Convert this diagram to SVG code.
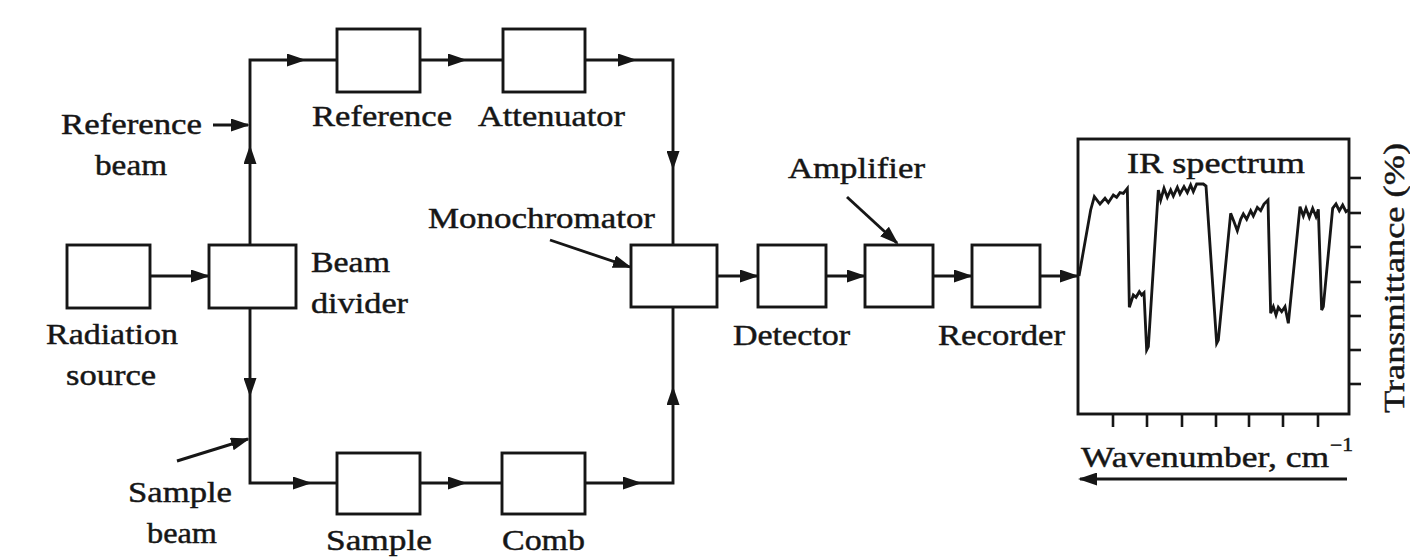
<svg xmlns="http://www.w3.org/2000/svg" width="1410" height="559" viewBox="0 0 1410 559">
<style>
  .box{fill:#fff;stroke:#161616;stroke-width:2.9}
  .ln{fill:none;stroke:#161616;stroke-width:2.9}
  .t{font-family:"Liberation Serif","Times New Roman",serif;font-size:29px;fill:#161616;stroke:#161616;stroke-width:0.45}
  .tick{stroke:#161616;stroke-width:2.6}
</style>
<defs>
  <marker id="ah" viewBox="0 0 19 13" refX="17" refY="6.5" markerWidth="19" markerHeight="13" markerUnits="userSpaceOnUse" orient="auto">
    <path d="M0,0 L19,6.5 L0,13 Z" fill="#161616"/>
  </marker>
</defs>
<rect width="1410" height="559" fill="#fff"/>

<g id="connectors">
  <path class="ln" d="M250,245 L250,147" marker-end="url(#ah)"/>
  <path class="ln" d="M250,147 L250,60 L304,60" marker-end="url(#ah)"/>
  <path class="ln" d="M304,60 L337,60"/>
  <path class="ln" d="M420,60 L465,60" marker-end="url(#ah)"/>
  <path class="ln" d="M465,60 L503,60"/>
  <path class="ln" d="M585,60 L635,60" marker-end="url(#ah)"/>
  <path class="ln" d="M635,60 L673,60 L673,168" marker-end="url(#ah)"/>
  <path class="ln" d="M673,168 L673,245"/>
  <path class="ln" d="M250,308 L250,395" marker-end="url(#ah)"/>
  <path class="ln" d="M250,395 L250,483 L310,483" marker-end="url(#ah)"/>
  <path class="ln" d="M310,483 L337,483"/>
  <path class="ln" d="M420,483 L465,483" marker-end="url(#ah)"/>
  <path class="ln" d="M465,483 L502,483"/>
  <path class="ln" d="M585,483 L640,483" marker-end="url(#ah)"/>
  <path class="ln" d="M640,483 L673,483 L673,388" marker-end="url(#ah)"/>
  <path class="ln" d="M673,388 L673,307"/>
  <path class="ln" d="M150,276 L208,276" marker-end="url(#ah)"/>
  <path class="ln" d="M717,276 L757,276" marker-end="url(#ah)"/>
  <path class="ln" d="M826,276 L864,276" marker-end="url(#ah)"/>
  <path class="ln" d="M933,276 L971,276" marker-end="url(#ah)"/>
  <path class="ln" d="M1040,276 L1077,276" marker-end="url(#ah)"/>
  <path class="ln" d="M213,125 L248,125" marker-end="url(#ah)"/>
  <path class="ln" d="M177,461 L248,439" marker-end="url(#ah)"/>
  <path class="ln" d="M550,240 L630,267" marker-end="url(#ah)"/>
  <path class="ln" d="M847,197 L897,243" marker-end="url(#ah)"/>
</g>

<g id="radiation-source">
  <rect class="box" x="67" y="245" width="83" height="63"/>
  <text class="t" x="46" y="344" textLength="132" lengthAdjust="spacingAndGlyphs">Radiation</text>
  <text class="t" x="66" y="385" textLength="90" lengthAdjust="spacingAndGlyphs">source</text>
</g>
<g id="beam-divider">
  <rect class="box" x="209" y="245" width="87" height="63"/>
  <text class="t" x="311" y="272" textLength="79" lengthAdjust="spacingAndGlyphs">Beam</text>
  <text class="t" x="311" y="313" textLength="97" lengthAdjust="spacingAndGlyphs">divider</text>
</g>
<g id="reference-beam-label">
  <text class="t" x="61" y="134" textLength="141" lengthAdjust="spacingAndGlyphs">Reference</text>
  <text class="t" x="95" y="175" textLength="72" lengthAdjust="spacingAndGlyphs">beam</text>
</g>
<g id="sample-beam-label">
  <text class="t" x="128" y="502" textLength="104" lengthAdjust="spacingAndGlyphs">Sample</text>
  <text class="t" x="147" y="543" textLength="70" lengthAdjust="spacingAndGlyphs">beam</text>
</g>
<g id="reference">
  <rect class="box" x="337" y="29" width="83" height="63"/>
  <text class="t" x="312" y="126" textLength="140" lengthAdjust="spacingAndGlyphs">Reference</text>
</g>
<g id="attenuator">
  <rect class="box" x="503" y="29" width="82" height="63"/>
  <text class="t" x="478" y="126" textLength="147" lengthAdjust="spacingAndGlyphs">Attenuator</text>
</g>
<g id="sample">
  <rect class="box" x="337" y="453" width="83" height="61"/>
  <text class="t" x="326" y="550" textLength="106" lengthAdjust="spacingAndGlyphs">Sample</text>
</g>
<g id="comb">
  <rect class="box" x="502" y="453" width="83" height="61"/>
  <text class="t" x="502" y="550" textLength="83" lengthAdjust="spacingAndGlyphs">Comb</text>
</g>
<g id="monochromator">
  <rect class="box" x="631" y="245" width="86" height="62"/>
  <text class="t" x="428" y="228" textLength="227" lengthAdjust="spacingAndGlyphs">Monochromator</text>
</g>
<g id="detector">
  <rect class="box" x="758" y="245" width="68" height="62"/>
  <text class="t" x="733" y="345" textLength="117" lengthAdjust="spacingAndGlyphs">Detector</text>
</g>
<g id="amplifier">
  <rect class="box" x="865" y="245" width="68" height="62"/>
  <text class="t" x="788" y="178" textLength="137" lengthAdjust="spacingAndGlyphs">Amplifier</text>
</g>
<g id="recorder">
  <rect class="box" x="972" y="245" width="68" height="62"/>
  <text class="t" x="938" y="345" textLength="127" lengthAdjust="spacingAndGlyphs">Recorder</text>
</g>

<g id="ir-spectrum">
  <rect x="1078" y="139" width="271" height="275" fill="none" stroke="#161616" stroke-width="2.9"/>
  <g class="tick">
    <line x1="1349" y1="178" x2="1361" y2="178"/>
    <line x1="1349" y1="213" x2="1361" y2="213"/>
    <line x1="1349" y1="247" x2="1361" y2="247"/>
    <line x1="1349" y1="282" x2="1361" y2="282"/>
    <line x1="1349" y1="316" x2="1361" y2="316"/>
    <line x1="1349" y1="350" x2="1361" y2="350"/>
    <line x1="1349" y1="384" x2="1361" y2="384"/>
    <line x1="1113" y1="414" x2="1113" y2="427"/>
    <line x1="1147" y1="414" x2="1147" y2="427"/>
    <line x1="1182" y1="414" x2="1182" y2="427"/>
    <line x1="1216" y1="414" x2="1216" y2="427"/>
    <line x1="1249" y1="414" x2="1249" y2="427"/>
    <line x1="1283" y1="414" x2="1283" y2="427"/>
    <line x1="1318" y1="414" x2="1318" y2="427"/>
  </g>
  <g transform="translate(1040 60) scale(0.33333)">
    <polyline fill="none" stroke="#161616" stroke-width="8.5" stroke-linejoin="miter" points="117,648 152,450 163,410 180,432 195,415 205,428 220,405 230,412 240,398 250,400 262,385 268,742 280,705 288,712 298,695 305,705 312,698 320,870 325,860 355,390 362,420 372,385 382,412 392,390 400,408 412,382 420,402 432,380 442,398 452,375 460,395 470,372 490,372 498,378 530,850 535,840 572,460 582,485 592,512 602,478 610,462 620,478 632,452 640,468 652,442 662,452 672,432 684,420 692,760 700,740 708,765 715,742 725,755 735,740 745,790 780,440 790,468 798,445 808,472 818,445 828,470 835,448 845,750 850,740 878,445 888,432 898,452 908,435 918,455 925,450"/>
  </g>
  <text class="t" x="1127" y="173" textLength="178" lengthAdjust="spacingAndGlyphs">IR spectrum</text>
  <text class="t" x="1081" y="467" textLength="248" lengthAdjust="spacingAndGlyphs">Wavenumber, cm</text>
  <text class="t" x="1330" y="451" style="font-size:18px" textLength="23" lengthAdjust="spacingAndGlyphs">−1</text>
  <text class="t" transform="translate(1404 413) rotate(-90)" x="0" y="0" textLength="270" lengthAdjust="spacingAndGlyphs">Transmittance (%)</text>
  <path class="ln" d="M1347,479 L1080,479" marker-end="url(#ah)"/>
</g>
</svg>
